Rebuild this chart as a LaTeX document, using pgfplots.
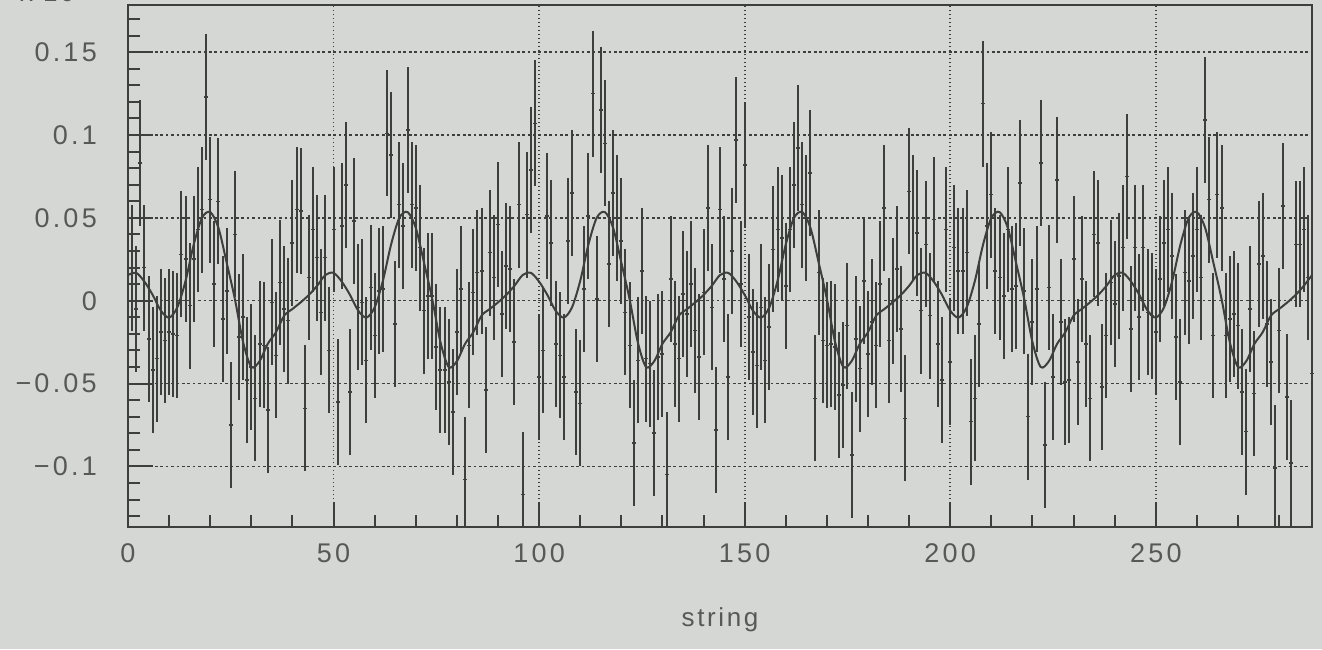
\documentclass[border=0pt]{standalone}
\usepackage{pgfplots}
\pgfplotsset{compat=1.18}
\usepackage{fontspec}
\setmainfont{Liberation Sans}
\newfontfamily\lbl[LetterSpace=12]{Liberation Sans}
\newfontfamily\lblb[LetterSpace=10]{Liberation Sans}
\definecolor{bg}{RGB}{212,215,211}
\definecolor{ink}{RGB}{62,62,62}
\definecolor{txt}{RGB}{88,88,88}
\begin{document}
\begin{tikzpicture}[x=1pt,y=1pt]
\fill[bg] (-128,-122) rectangle (1194,527);
\begin{axis}[
  at={(0,0)}, anchor=south west,
  scale only axis, width=1184pt, height=522pt,
  xmin=0, xmax=288, ymin=-0.1366, ymax=0.1785,
  axis line style={ink, line width=2pt},
  tick style={ink, line width=2pt},
  major tick length=25pt, minor tick length=12pt,
  tick align=inside, xtick pos=bottom, ytick pos=left,
  xtick={0,50,100,150,200,250},
  xticklabels={0,50,100,150,200,250},
  ytick={-0.1,-0.05,0,0.05,0.1,0.15},
  yticklabels={−0.1,−0.05,0,0.05,0.1,0.15},
  minor xtick={10,20,30,40,60,70,80,90,110,120,130,140,160,170,180,190,210,220,230,240,260,270,280},
  minor ytick={-0.13,-0.12,-0.11,-0.09,-0.08,-0.07,-0.06,-0.04,-0.03,-0.02,-0.01,0.01,0.02,0.03,0.04,0.06,0.07,0.08,0.09,0.11,0.12,0.13,0.14,0.16,0.17},
  xmajorgrids, ymajorgrids,
  major x grid style={ink, line width=1.8pt, dash pattern=on 1.3pt off 2.7pt},
  major y grid style={ink, line width=1.5pt, dash pattern=on 2.7pt off 2.7pt},
  xticklabel style={font={\lbl\fontsize{27}{31}\selectfont}, text=txt, inner sep=0pt, anchor=north, yshift=-16pt},
  yticklabel style={font={\lbl\fontsize{27}{31}\selectfont}, text=txt, inner sep=0pt, anchor=east, xshift=-31pt},
]
\addplot[ink, line width=1.6pt, only marks, mark=-, mark size=2pt,
  error bars/.cd, y dir=both, y fixed=0.038, error mark=none,
  error bar style={ink, line width=2pt}]
coordinates {
(1,0.020) (2,-0.005) (3,0.083) (4,0.020) (5,-0.023) (6,-0.042) (7,-0.035) (8,-0.019) (9,-0.024) (10,-0.019)
(11,-0.020) (12,-0.021) (13,0.028) (14,0.025) (15,-0.003) (16,0.025) (17,0.043) (18,0.055) (19,0.123) (20,0.061)
(21,0.010) (22,0.060) (23,-0.011) (24,0.006) (25,-0.075) (26,0.040) (27,-0.022) (28,-0.010) (29,-0.048) (30,-0.040)
(31,-0.059) (32,-0.026) (33,-0.027) (34,-0.066) (35,-0.001) (36,-0.033) (37,0.011) (38,-0.005) (39,-0.012) (40,0.035)
(41,0.055) (42,0.054) (43,-0.065) (44,0.014) (45,0.043) (46,0.026) (47,-0.007) (48,0.026) (49,-0.030) (50,0.043)
(51,-0.061) (52,0.045) (53,0.070) (54,-0.055) (55,0.048) (56,-0.004) (57,-0.001) (58,-0.036) (59,0.008) (60,-0.021)
(61,0.006) (62,0.007) (63,0.101) (64,0.088) (65,-0.014) (66,0.058) (67,0.045) (68,0.103) (69,0.058) (70,0.056)
(71,0.032) (72,-0.006) (73,0.003) (74,0.003) (75,-0.028) (76,-0.042) (77,-0.042) (78,-0.049) (79,-0.067) (80,-0.019)
(81,0.007) (82,-0.108) (83,-0.027) (84,0.005) (85,0.017) (86,0.018) (87,-0.054) (88,0.029) (89,0.014) (90,0.046)
(91,-0.008) (92,0.021) (93,0.019) (94,-0.025) (95,0.058) (96,-0.117) (97,0.052) (98,0.079) (99,0.107) (100,-0.046)
(101,-0.030) (102,0.051) (103,0.035) (104,-0.026) (105,-0.033) (106,-0.046) (107,0.036) (108,0.065) (109,-0.055) (110,-0.062)
(111,0.007) (112,0.051) (113,0.125) (114,0.001) (115,0.115) (116,0.095) (117,0.022) (118,0.065) (119,0.050) (120,0.036)
(121,-0.007) (122,-0.027) (123,-0.086) (124,-0.036) (125,0.018) (126,-0.035) (127,-0.038) (128,-0.080) (129,-0.034) (130,-0.032)
(131,-0.105) (132,0.013) (133,-0.026) (134,-0.035) (135,0.004) (136,-0.008) (137,0.010) (138,-0.018) (139,-0.034) (140,0.005)
(141,0.056) (142,-0.004) (143,-0.078) (144,0.055) (145,0.013) (146,-0.046) (147,0.030) (148,0.097) (149,0.010) (150,0.082)
(151,-0.010) (152,-0.031) (153,-0.039) (154,-0.004) (155,-0.036) (156,-0.016) (157,0.031) (158,0.043) (159,0.038) (160,0.009)
(161,0.043) (162,0.070) (163,0.092) (164,0.058) (165,0.050) (166,0.077) (167,-0.059) (168,0.017) (169,-0.024) (170,-0.027)
(171,-0.026) (172,-0.028) (173,-0.057) (174,-0.051) (175,-0.015) (176,-0.093) (177,-0.023) (178,-0.041) (179,0.012) (180,-0.032)
(181,-0.013) (182,-0.027) (183,0.010) (184,0.056) (185,-0.024) (186,0.000) (187,0.019) (188,-0.017) (189,-0.071) (190,0.066)
(191,0.050) (192,0.041) (193,-0.006) (194,0.034) (195,-0.009) (196,0.049) (197,-0.026) (198,-0.048) (199,0.043) (200,-0.037)
(201,0.032) (202,0.018) (203,0.018) (204,0.029) (205,-0.073) (206,-0.059) (207,-0.014) (208,0.119) (209,0.045) (210,0.064)
(211,0.018) (212,0.014) (213,0.003) (214,0.043) (215,0.007) (216,0.009) (217,0.071) (218,0.006) (219,-0.070) (220,-0.013)
(221,0.007) (222,0.083) (223,-0.087) (224,0.008) (225,-0.046) (226,0.073) (227,-0.013) (228,-0.049) (229,-0.048) (230,0.025)
(231,-0.037) (232,0.013) (233,-0.026) (234,-0.059) (235,0.040) (236,0.035) (237,-0.052) (238,-0.021) (239,0.011) (240,-0.002)
(241,0.015) (242,0.032) (243,0.075) (244,-0.017) (245,0.032) (246,-0.010) (247,0.032) (248,-0.007) (249,-0.009) (250,-0.019)
(251,0.013) (252,0.035) (253,0.043) (254,0.027) (255,-0.022) (256,-0.049) (257,0.017) (258,0.012) (259,0.027) (260,0.043)
(261,0.014) (262,0.109) (263,0.061) (264,-0.021) (265,0.064) (266,0.056) (267,-0.021) (268,-0.011) (269,-0.008) (270,-0.015)
(271,-0.055) (272,-0.079) (273,-0.005) (274,-0.056) (275,0.022) (276,0.027) (277,-0.014) (278,-0.037) (279,-0.101) (280,-0.018)
(281,0.057) (282,-0.058) (283,-0.098) (284,0.034) (285,0.034) (286,0.043) (287,0.014) (288,-0.044)
};
\addplot[ink, line width=2pt, smooth, no markers] coordinates {
(0,0.0155) (2,0.0168) (4,0.0115) (6,0.0035) (8,-0.0060) (10,-0.0102) (12,-0.0040) (14,0.0120) (16,0.0340) (18,0.0500) (20,0.0535) (22,0.0440)
(24,0.0230) (26,0.0010) (28,-0.0250) (30,-0.0400) (32,-0.0365) (34,-0.0260) (36,-0.0190) (38,-0.0090) (40,-0.0050) (42,-0.0010) (44,0.0035) (46,0.0090)
(48,0.0155) (50,0.0168) (52,0.0115) (54,0.0035) (56,-0.0060) (58,-0.0102) (60,-0.0040) (62,0.0120) (64,0.0340) (66,0.0500) (68,0.0535) (70,0.0440)
(72,0.0230) (74,0.0010) (76,-0.0250) (78,-0.0400) (80,-0.0365) (82,-0.0260) (84,-0.0190) (86,-0.0090) (88,-0.0050) (90,-0.0010) (92,0.0035) (94,0.0090)
(96,0.0155) (98,0.0168) (100,0.0115) (102,0.0035) (104,-0.0060) (106,-0.0102) (108,-0.0040) (110,0.0120) (112,0.0340) (114,0.0500) (116,0.0535) (118,0.0440)
(120,0.0230) (122,0.0010) (124,-0.0250) (126,-0.0400) (128,-0.0365) (130,-0.0260) (132,-0.0190) (134,-0.0090) (136,-0.0050) (138,-0.0010) (140,0.0035) (142,0.0090)
(144,0.0155) (146,0.0168) (148,0.0115) (150,0.0035) (152,-0.0060) (154,-0.0102) (156,-0.0040) (158,0.0120) (160,0.0340) (162,0.0500) (164,0.0535) (166,0.0440)
(168,0.0230) (170,0.0010) (172,-0.0250) (174,-0.0400) (176,-0.0365) (178,-0.0260) (180,-0.0190) (182,-0.0090) (184,-0.0050) (186,-0.0010) (188,0.0035) (190,0.0090)
(192,0.0155) (194,0.0168) (196,0.0115) (198,0.0035) (200,-0.0060) (202,-0.0102) (204,-0.0040) (206,0.0120) (208,0.0340) (210,0.0500) (212,0.0535) (214,0.0440)
(216,0.0230) (218,0.0010) (220,-0.0250) (222,-0.0400) (224,-0.0365) (226,-0.0260) (228,-0.0190) (230,-0.0090) (232,-0.0050) (234,-0.0010) (236,0.0035) (238,0.0090)
(240,0.0155) (242,0.0168) (244,0.0115) (246,0.0035) (248,-0.0060) (250,-0.0102) (252,-0.0040) (254,0.0120) (256,0.0340) (258,0.0500) (260,0.0535) (262,0.0440)
(264,0.0230) (266,0.0010) (268,-0.0250) (270,-0.0400) (272,-0.0365) (274,-0.0260) (276,-0.0190) (278,-0.0090) (280,-0.0050) (282,-0.0010) (284,0.0035) (286,0.0090)
(288,0.0155)
};
\end{axis}
\node[font={\lblb\fontsize{26}{30}\selectfont}, text=txt, anchor=center] at (592,-93) {string};
\node[font={\lblb\fontsize{26}{30}\selectfont}, text=txt, anchor=base west, inner sep=0pt] at (-108,525) {x 10$^{-1}$};
\pgfresetboundingbox
\path[use as bounding box] (-128,-122) rectangle (1194,527);
\end{tikzpicture}
\end{document}
